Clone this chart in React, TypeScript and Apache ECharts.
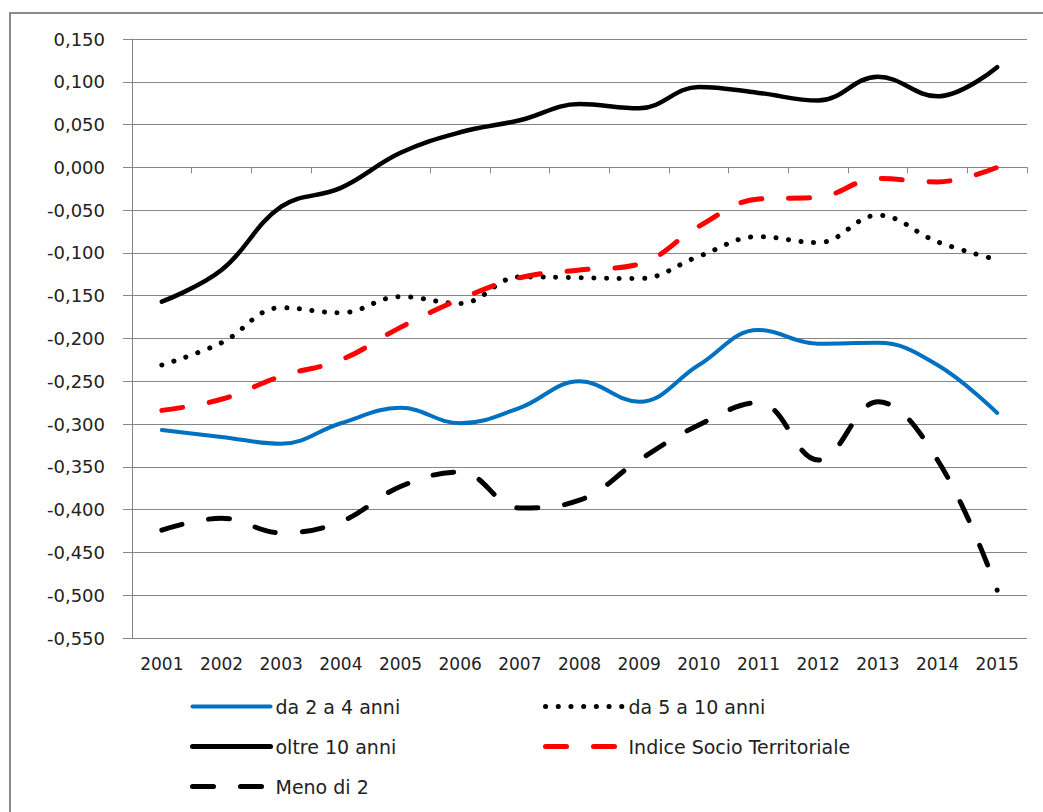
import React, { useEffect, useRef } from "react";
import * as echarts from "echarts";

const years = ["2001","2002","2003","2004","2005","2006","2007","2008","2009","2010","2011","2012","2013","2014","2015"];

const da2a4 = [-0.307,-0.315,-0.323,-0.299,-0.281,-0.299,-0.281,-0.250,-0.274,-0.231,-0.190,-0.206,-0.205,-0.231,-0.287];
const da5a10 = [-0.231,-0.205,-0.164,-0.170,-0.151,-0.159,-0.128,-0.129,-0.130,-0.104,-0.081,-0.088,-0.056,-0.087,-0.108];
const oltre10 = [-0.157,-0.120,-0.046,-0.024,0.017,0.041,0.055,0.074,0.069,0.094,0.087,0.078,0.106,0.083,0.117];
const indice = [-0.284,-0.271,-0.244,-0.225,-0.187,-0.154,-0.129,-0.120,-0.113,-0.069,-0.037,-0.035,-0.013,-0.017,0.000];
const meno2 = [-0.424,-0.410,-0.427,-0.414,-0.373,-0.356,-0.398,-0.389,-0.342,-0.301,-0.275,-0.342,-0.274,-0.342,-0.494];

const names = ["da 2 a 4 anni", "da 5 a 10 anni", "oltre 10 anni", "Indice Socio Territoriale", "Meno di 2"];

const FONT = "DejaVu Sans";
const GRAY = "#868686";

export default function App() {
  const ref = useRef<HTMLDivElement>(null);
  useEffect(() => {
    if (!ref.current) return;
    const chart = echarts.init(ref.current, null, { renderer: "svg" });
    const fmt = (v: number) => v.toFixed(3).replace(".", ",");
    const mk = (name: string, data: number[], color: string, width: number, type: any, z: number) => ({
      name,
      type: "line",
      data,
      xAxisIndex: 0,
      smooth: 0.4,
      symbol: "none",
      showSymbol: false,
      z,
      lineStyle: { color, width, type, cap: "round", join: "round" },
      itemStyle: { color },
    });
    const legendBase = {
      orient: "vertical",
      top: 697,
      padding: 0,
      itemWidth: 78,
      itemHeight: 14,
      itemGap: 21,
      itemStyle: { opacity: 0 },
      textStyle: { fontSize: 19, fontFamily: FONT, color: "#222" },
    };
    chart.setOption({
      animation: false,
      backgroundColor: "#ffffff",
      grid: { left: 132, right: 16, top: 39, bottom: 174, containLabel: false },
      xAxis: [
        {
          type: "category",
          data: years,
          position: "bottom",
          boundaryGap: true,
          axisLine: { show: true, onZero: true, lineStyle: { color: GRAY, width: 1 } },
          axisTick: { show: true, length: 6, alignWithLabel: false, lineStyle: { color: GRAY } },
          axisLabel: { show: false },
          splitLine: { show: false },
        },
        {
          type: "category",
          data: years,
          position: "bottom",
          boundaryGap: true,
          axisLine: { show: false, onZero: false },
          axisTick: { show: false },
          axisLabel: { show: true, fontSize: 17, fontFamily: FONT, color: "#222", margin: 17 },
          splitLine: { show: false },
        },
      ],
      yAxis: {
        type: "value",
        min: -0.55,
        max: 0.15,
        interval: 0.05,
        axisLine: { show: true, lineStyle: { color: GRAY, width: 1 } },
        axisTick: { show: true, length: 9, lineStyle: { color: GRAY } },
        axisLabel: { fontSize: 18, fontFamily: FONT, color: "#222", margin: 27, formatter: fmt },
        splitLine: { show: true, lineStyle: { color: GRAY, width: 1 } },
      },
      legend: [
        {
          ...legendBase,
          left: 190,
          data: [
            { name: names[0], lineStyle: { width: 4 } },
            { name: names[2], lineStyle: { width: 5 } },
            { name: names[4], lineStyle: { width: 5 } },
          ],
        },
        {
          ...legendBase,
          left: 543,
          data: [
            { name: names[1], lineStyle: { width: 5 } },
            { name: names[3], lineStyle: { width: 5 } },
          ],
        },
      ],
      graphic: [
        {
          type: "rect",
          shape: { x: 10, y: 13, width: 1100, height: 900 },
          style: { fill: "none", stroke: "#8a8a8a", lineWidth: 2 },
          z: 100,
          silent: true,
        },
      ],
      series: [
        mk(names[0], da2a4, "#0070C0", 4, "solid", 3),
        mk(names[1], da5a10, "#000000", 5, [0.1, 12.6], 3),
        mk(names[2], oltre10, "#000000", 4.5, "solid", 3),
        mk(names[3], indice, "#FF0000", 5, [21, 27], 4),
        mk(names[4], meno2, "#000000", 5, [21, 27], 3),
      ],
    });
    return () => chart.dispose();
  }, []);
  return (
    <div
      ref={ref}
      style={{ position: "fixed", left: 0, top: 0, width: 1043, height: 812, background: "#fff" }}
    />
  );
}
